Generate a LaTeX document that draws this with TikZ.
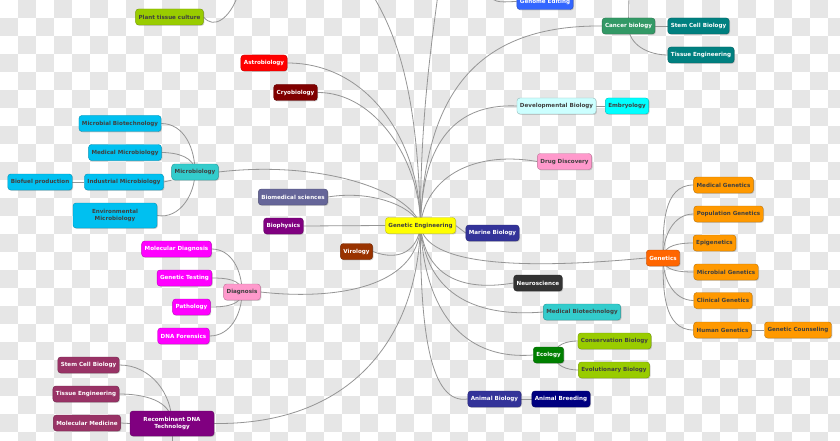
\documentclass[tikz,border=0pt]{standalone}
\usepackage{fontspec}
\setmainfont{DejaVu Sans}
\usetikzlibrary{shadows}
\pgfdeclarelayer{bg}
\pgfsetlayers{bg,main}
\definecolor{dk}{HTML}{404040}
\definecolor{chk}{HTML}{E6E6E6}
\definecolor{linkc}{HTML}{959595}
\definecolor{ylgreen}{HTML}{99CC00}
\definecolor{red1}{HTML}{FF0000}
\definecolor{maroon1}{HTML}{800000}
\definecolor{skyc}{HTML}{00C0F0}
\definecolor{tealc}{HTML}{33CCCC}
\definecolor{slate}{HTML}{666699}
\definecolor{purp}{HTML}{800080}
\definecolor{yel}{HTML}{FFFF00}
\definecolor{brown1}{HTML}{993300}
\definecolor{indigo1}{HTML}{333399}
\definecolor{lcyan}{HTML}{CCFFFF}
\definecolor{cyan1}{HTML}{00FFFF}
\definecolor{pink1}{HTML}{FF99CC}
\definecolor{blue3}{HTML}{3366FF}
\definecolor{green3}{HTML}{339966}
\definecolor{teal1}{HTML}{008080}
\definecolor{orange1}{HTML}{FF6600}
\definecolor{orange2}{HTML}{FF9900}
\definecolor{dgray}{HTML}{333333}
\definecolor{green1}{HTML}{008000}
\definecolor{navy1}{HTML}{000080}
\definecolor{magenta1}{HTML}{FF00FF}
\definecolor{rose1}{HTML}{993366}
\tikzset{
  boxbase/.style={rounded corners=3pt, minimum height=16pt, inner xsep=3pt, inner ysep=1pt,
    font=\bfseries\fontsize{5.6}{7.4}\selectfont,
    drop shadow={shadow xshift=0.9pt, shadow yshift=-0.9pt, opacity=0.35}},
  bx/.style 2 args={boxbase, fill=#1, draw=#1!75!black, text=#2},
  twoline/.style={align=center, minimum width=84pt, minimum height=25pt},
  link/.style={draw=linkc, line width=0.8pt},
}
\begin{document}
\begin{tikzpicture}[x=1pt,y=-1pt]
\useasboundingbox (0,0) rectangle (840,441);
% nodes
\node[bx={ylgreen}{dk}] (ptc) at (169.5,17) {Plant tissue culture};
\node[bx={red1}{white}] (astro) at (264,63) {Astrobiology};
\node[bx={maroon1}{white}] (cryo) at (295.5,92.5) {Cryobiology};
\node[bx={skyc}{dk}] (mbt) at (120,123.5) {Microbial Biotechnology};
\node[bx={skyc}{dk}] (medmic) at (125,152.5) {Medical Microbiology};
\node[bx={tealc}{dk}] (micro) at (195,172) {Microbiology};
\node[bx={skyc}{dk}] (biofuel) at (40,182) {Biofuel production};
\node[bx={skyc}{dk}] (indmic) at (124,182) {Industrial Microbiology};
\node[bx={skyc}{dk}, twoline] (envmic) at (115,215.5) {Environmental\\Microbiology};
\node[bx={slate}{white}] (biomed) at (293,197) {Biomedical sciences};
\node[bx={purp}{white}] (biophys) at (283.5,226) {Biophysics};
\node[bx={yel}{dk}] (ge) at (420.5,225.5) {Genetic Engineering};
\node[bx={brown1}{white}] (viro) at (356.5,251.5) {Virology};
\node[bx={indigo1}{white}] (marine) at (492.5,233) {Marine Biology};
\node[bx={lcyan}{dk}] (devbio) at (556.5,106) {Developmental Biology};
\node[bx={cyan1}{dk}] (embryo) at (627,106) {Embryology};
\node[bx={pink1}{dk}] (drug) at (564.5,161.5) {Drug Discovery};
\node[bx={blue3}{white}] (genome) at (545,1.5) {Genome Editing};
\node[bx={green3}{white}] (cancer) at (628.5,26) {Cancer biology};
\node[bx={teal1}{white}] (stem1) at (698.5,26) {Stem Cell Biology};
\node[bx={teal1}{white}] (tissue1) at (701,55) {Tissue Engineering};
\node[bx={orange1}{white}] (genetics) at (663,258) {Genetics};
\node[bx={orange2}{dk}] (medgen) at (723.5,185) {Medical Genetics};
\node[bx={orange2}{dk}] (popgen) at (728.5,214) {Population Genetics};
\node[bx={orange2}{dk}] (epigen) at (714.5,243) {Epigenetics};
\node[bx={orange2}{dk}] (micgen) at (726,272) {Microbial Genetics};
\node[bx={orange2}{dk}] (clingen) at (723,300.5) {Clinical Genetics};
\node[bx={orange2}{dk}] (humgen) at (722.5,330) {Human Genetics};
\node[bx={orange2}{dk}] (gencoun) at (798,330) {Genetic Counseling};
\node[bx={dgray}{white}] (neuro) at (538,283) {Neuroscience};
\node[bx={tealc}{dk}] (medbio) at (582,312) {Medical Biotechnology};
\node[bx={ylgreen}{dk}] (conserv) at (614.5,341) {Conservation Biology};
\node[bx={green1}{white}] (ecology) at (548.5,355) {Ecology};
\node[bx={ylgreen}{dk}] (evol) at (614,370) {Evolutionary Biology};
\node[bx={indigo1}{white}] (animbio) at (494.5,399) {Animal Biology};
\node[bx={navy1}{white}] (animbreed) at (561,399) {Animal Breeding};
\node[bx={magenta1}{white}] (moldiag) at (176.5,249) {Molecular Diagnosis};
\node[bx={magenta1}{white}] (gentest) at (184.5,278) {Genetic Testing};
\node[bx={pink1}{dk}] (diag) at (242,292) {Diagnosis};
\node[bx={magenta1}{white}] (patho) at (191.5,307) {Pathology};
\node[bx={magenta1}{white}] (dnafor) at (183.5,336) {DNA Forensics};
\node[bx={rose1}{white}] (stem2) at (88.5,365) {Stem Cell Biology};
\node[bx={rose1}{white}] (tissue2) at (86,394) {Tissue Engineering};
\node[bx={rose1}{white}] (molmed) at (87,423) {Molecular Medicine};
\node[bx={purp}{white}, twoline] (recdna) at (172,423.5) {Recombinant DNA\\Technology};
% free ends
\coordinate (ptctop) at (238,-5);
\coordinate (gtop) at (491,-6);
\coordinate (ctop) at (629,-6);
\coordinate (top1) at (372,-6);
\coordinate (top2) at (438,-6);
\coordinate (rbot) at (172,446);
\begin{pgfonlayer}{bg}
  \fill[white] (0,0) rectangle (840,441);
  \foreach \i in {0,36,...,828}{
    \foreach \j in {0,36,...,432}{
      \fill[chk] (\i+18,\j) rectangle +(18,18);
      \fill[chk] (\i,\j+18) rectangle +(18,18);
    }
  }
  % main branches
  \draw[link] (ge.center) .. controls (420,143) and (370,63) .. (astro.east);
  \draw[link] (ge.center) .. controls (420,160) and (375,92) .. (cryo.east);
  \draw[link] (ge.center) .. controls (410,190) and (320,160) .. (micro.east);
  \draw[link] (ge.center) .. controls (412,205) and (370,190) .. (biomed.east);
  \draw[link] (biophys.east) -- (ge.west);
  \draw[link] (viro.east) .. controls (400,262) and (418,250) .. (ge.center);
  \draw[link] (ge.center) .. controls (418,290) and (330,300) .. (diag.east);
  \draw[link] (ge.center) .. controls (417,340) and (350,425) .. (recdna.east);
  \draw[link] (ge.center) .. controls (420,330) and (430,405) .. (animbio.west);
  \draw[link] (ge.center) .. controls (425,320) and (470,360) .. (ecology.west);
  \draw[link] (ge.center) .. controls (425,290) and (470,318) .. (medbio.west);
  \draw[link] (ge.center) .. controls (425,275) and (460,292) .. (neuro.west);
  \draw[link] (ge.center) .. controls (425,265) and (520,270) .. (genetics.west);
  \draw[link] (ge.east) -- (marine.west);
  \draw[link] (ge.center) .. controls (425,180) and (470,150) .. (drug.west);
  \draw[link] (ge.center) .. controls (422,150) and (450,103) .. (devbio.west);
  \draw[link] (ge.center) .. controls (425,90) and (480,25) .. (cancer.west);
  \draw[link] (ge.center) .. controls (418,100) and (400,40) .. (top1);
  \draw[link] (ge.center) .. controls (420,120) and (432,40) .. (top2);
  % microbiology
  \draw[link] (mbt.east) to[out=0,in=90] (micro.center);
  \draw[link] (medmic.east) to[out=0,in=90] (micro.center);
  \draw[link] (envmic.east) to[out=-10,in=-90] (micro.center);
  \draw[link] (indmic.east) -- (micro.south west);
  \draw[link] (biofuel.east) -- (indmic.west);
  % diagnosis
  \draw[link] (moldiag.east) to[out=0,in=90] (diag.center);
  \draw[link] (gentest.east) to[out=0,in=90] (diag.center);
  \draw[link] (patho.east) to[out=0,in=-90] (diag.center);
  \draw[link] (dnafor.east) to[out=0,in=-90] (diag.center);
  % recombinant
  \draw[link] (stem2.east) to[out=0,in=90] (recdna.center);
  \draw[link] (tissue2.east) to[out=0,in=90] (recdna.center);
  \draw[link] (molmed.east) -- (recdna.west);
  \draw[link] (recdna.center) -- (rbot);
  % genetics
  \draw[link] (genetics.center) to[out=90,in=180] (medgen.west);
  \draw[link] (genetics.center) to[out=90,in=180] (popgen.west);
  \draw[link] (genetics.center) to[out=90,in=180] (epigen.west);
  \draw[link] (genetics.center) to[out=-90,in=180] (micgen.west);
  \draw[link] (genetics.center) to[out=-90,in=180] (clingen.west);
  \draw[link] (genetics.center) to[out=-90,in=180] (humgen.west);
  \draw[link] (humgen.east) -- (gencoun.west);
  % ecology
  \draw[link] ([xshift=6pt]ecology.center) to[out=90,in=180] (conserv.west);
  \draw[link] ([xshift=6pt]ecology.center) to[out=-90,in=180] (evol.west);
  % cancer
  \draw[link] (cancer.east) -- (stem1.west);
  \draw[link] (cancer.center) to[out=-90,in=180] (tissue1.west);
  \draw[link] (cancer.center) -- (ctop);
  % others
  \draw[link] (devbio.east) -- (embryo.west);
  \draw[link] (animbio.east) -- (animbreed.west);
  \draw[link] (gtop) to[out=-90,in=180] (genome.west);
  \draw[link] (ptc.east) .. controls (214,30) and (230,18) .. (ptctop);
\end{pgfonlayer}
\end{tikzpicture}
\end{document}
